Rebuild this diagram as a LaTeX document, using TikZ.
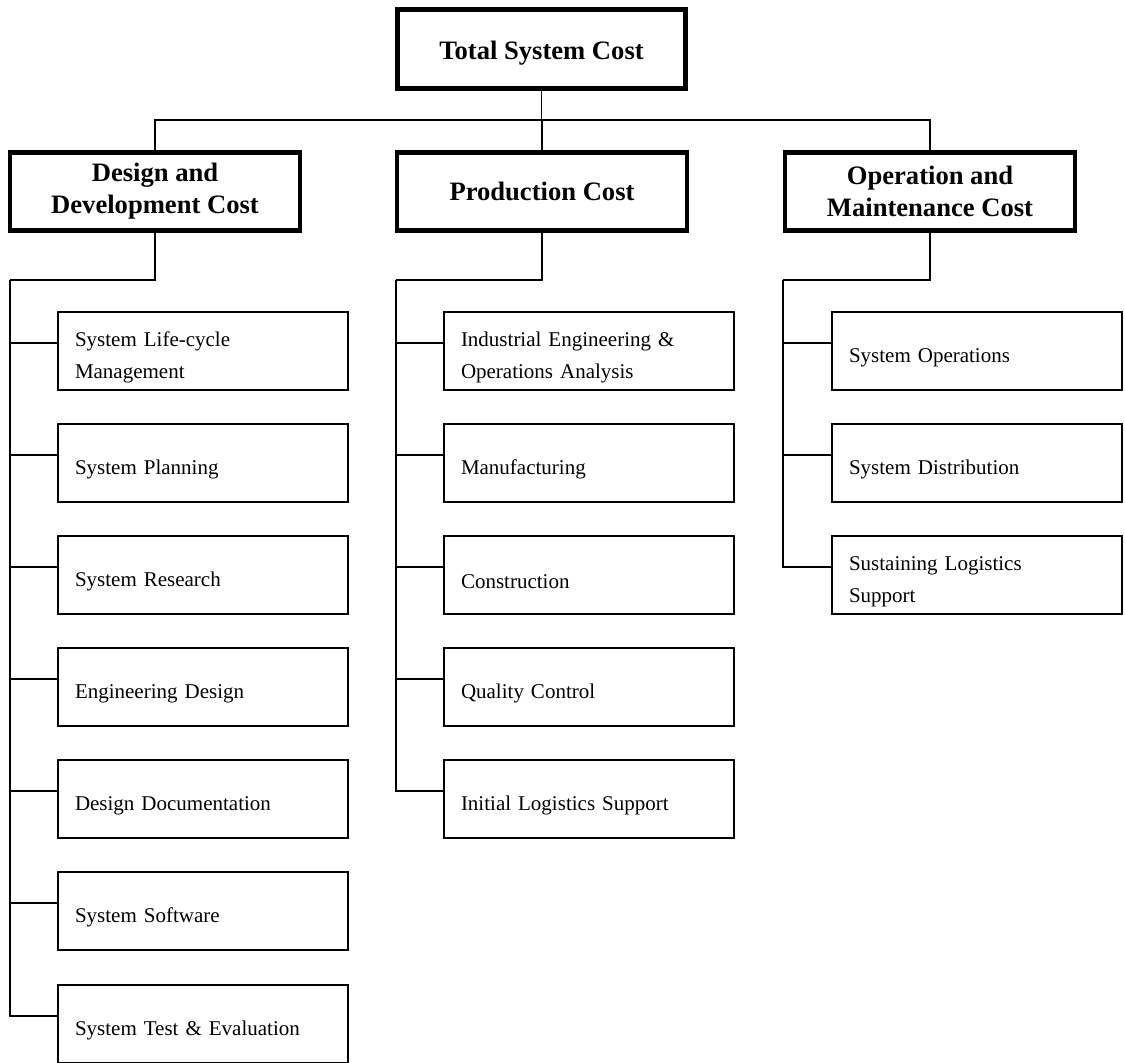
\documentclass[tikz,border=0pt]{standalone}
\usepackage{fontspec}
\setmainfont{Liberation Serif}
\newcommand{\itemstrut}{\rule{0pt}{27pt}}
\begin{document}
\begin{tikzpicture}[x=1pt,y=-1pt,
  totalbox/.style={draw, line width=5pt, minimum width=288pt, minimum height=79pt,
    inner sep=0pt, align=center, font=\fontsize{26.6}{32}\selectfont\bfseries},
  groupbox/.style={draw, line width=4.5pt, minimum width=290pt, minimum height=78pt,
    inner sep=0pt, align=center, font=\fontsize{26.6}{32}\selectfont\bfseries},
  itembox/.style={draw, line width=2.5pt, minimum height=78pt, text width=256pt,
    inner xsep=17pt, inner ysep=0pt, align=left, font=\fontsize{21}{32}\selectfont},
  link/.style={line width=1.1pt}]
\useasboundingbox (0,0) rectangle (1125,1063);

% top of the breakdown
\node[totalbox] (tot) at (541.5,49) {\rule{0pt}{26pt}Total System Cost};

% three cost categories
\node[groupbox] (dd) at (155,191.5) {Design and\\Development Cost};
\node[groupbox] (pc) at (542,191.5) {Production Cost};
\node[groupbox] (om) at (930,191.5) {Operation and\\Maintenance Cost};

% design and development items
\node[itembox] (dd1) at (203,351)  {\itemstrut System Life-cycle\\Management};
\node[itembox] (dd2) at (203,463)  {\itemstrut System Planning};
\node[itembox] (dd3) at (203,575)  {\itemstrut System Research};
\node[itembox] (dd4) at (203,687)  {\itemstrut Engineering Design};
\node[itembox] (dd5) at (203,799)  {\itemstrut Design Documentation};
\node[itembox] (dd6) at (203,911)  {\itemstrut System Software};
\node[itembox] (dd7) at (203,1024) {\itemstrut System Test \& Evaluation};

% production items
\node[itembox] (pc1) at (589,351) {\itemstrut Industrial Engineering \&\\Operations Analysis};
\node[itembox] (pc2) at (589,463) {\itemstrut Manufacturing};
\node[itembox] (pc3) at (589,575) {\itemstrut Construction};
\node[itembox] (pc4) at (589,687) {\itemstrut Quality Control};
\node[itembox] (pc5) at (589,799) {\itemstrut Initial Logistics Support};

% operation and maintenance items
\node[itembox] (om1) at (977,351) {\itemstrut System Operations};
\node[itembox] (om2) at (977,463) {\itemstrut System Distribution};
\node[itembox] (om3) at (977,575) {\itemstrut Sustaining Logistics\\Support};

% branching points
\coordinate (bus)   at (541.5,120);
\coordinate (ddhub) at (10,280);
\coordinate (pchub) at (396,280);
\coordinate (omhub) at (783,280);

% connectors
\draw[link] (tot.south) -- (bus);
\foreach \g in {dd,pc,om} \draw[link] (bus) -| (\g.north);

\draw[link] (dd.south) |- (ddhub);
\draw[link] (pc.south) |- (pchub);
\draw[link] (om.south) |- (omhub);

\foreach \i in {1,...,7} \draw[link] (ddhub) |- ([yshift=8pt]dd\i.west);
\foreach \i in {1,...,5} \draw[link] (pchub) |- ([yshift=8pt]pc\i.west);
\foreach \i in {1,...,3} \draw[link] (omhub) |- ([yshift=8pt]om\i.west);
\end{tikzpicture}
\end{document}
